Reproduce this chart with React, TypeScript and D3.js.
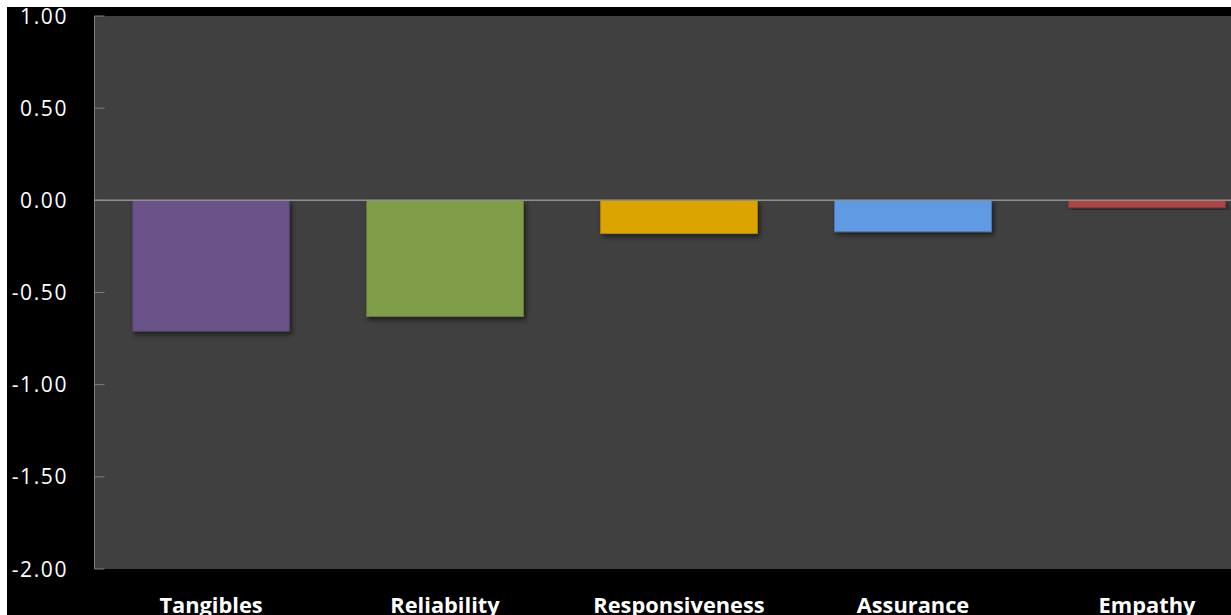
import React from "react";
import * as d3 from "d3";

// Service-quality gap scores per dimension
const categories = ["Tangibles", "Reliability", "Responsiveness", "Assurance", "Empathy"];
const gapValues = [-0.71, -0.63, -0.18, -0.17, -0.04];
const barColors = ["#6a5388", "#809d47", "#dba403", "#5e9ae2", "#ab4547"];
const yTicks = [1.0, 0.5, 0.0, -0.5, -1.0, -1.5, -2.0];

const W = 1231;
const H = 615;
const originX = 8;
const originY = 8;
const plotLeft = 86.5;
const plotTop = 8;
const plotBottom = 561;
const bandStart = 86;
const bandStep = 234;

export default function App() {
  const y = d3.scaleLinear().domain([-2, 1]).range([plotBottom, plotTop]);
  const x = d3
    .scaleBand<string>()
    .domain(categories)
    .range([bandStart, bandStart + bandStep * categories.length])
    .paddingInner(0.33)
    .paddingOuter(0.165);
  const plotRight = bandStart + bandStep * categories.length;
  const fmt = (v: number) => d3.format(".2f")(v).replace("\u2212", "-");

  return (
    <div style={{ width: W - 16, height: H - 16 }}>
      <svg
        width={W}
        height={H}
        style={{ display: "block", position: "fixed", left: 0, top: 0 }}
      >
        <defs>
          <filter id="barShadow" x="-10%" y="-10%" width="130%" height="140%">
            <feDropShadow dx="2" dy="3" stdDeviation="2.5" floodColor="#000" floodOpacity="0.55" />
          </filter>
        </defs>
        <rect x={0} y={0} width={W} height={H} fill="#ffffff" />
        <g transform={`translate(${originX},${originY})`}>
          <rect x={-1} y={-1} width={W} height={H} fill="#000" />
          <rect
            x={plotLeft}
            y={plotTop}
            width={plotRight - plotLeft}
            height={plotBottom - plotTop}
            fill="#404040"
          />

          {/* y axis */}
          <line x1={plotLeft} x2={plotLeft} y1={plotTop} y2={plotBottom} stroke="#7f7f7f" strokeWidth={1} />
          {yTicks.map((t) => (
            <g key={t}>
              <line
                x1={plotLeft}
                x2={plotLeft + 10}
                y1={y(t)}
                y2={y(t)}
                stroke="#7f7f7f"
                strokeWidth={1}
              />
              <text
                x={60}
                y={y(t)}
                dy="0.36em"
                textAnchor="end"
                fill="#ffffff"
                fontFamily="'Open Sans', sans-serif"
                fontSize={21}
                letterSpacing={1.6}
              >
                {fmt(t)}
              </text>
            </g>
          ))}

          {/* bars */}
          {categories.map((c, i) => {
            const v = gapValues[i];
            const y0 = y(Math.max(0, v));
            const y1 = y(Math.min(0, v));
            return (
              <rect
                key={c}
                x={x(c)}
                y={y0}
                width={x.bandwidth()}
                height={y1 - y0}
                fill={barColors[i]}
                stroke={d3.color(barColors[i])!.darker(0.6).toString()}
                strokeWidth={1}
                filter="url(#barShadow)"
              />
            );
          })}

          {/* zero line */}
          <line x1={plotLeft} x2={plotRight} y1={y(0)} y2={y(0)} stroke="#8f8f8f" strokeWidth={1.5} />

          {/* category labels */}
          {categories.map((c) => (
            <text
              key={c}
              x={x(c)! + x.bandwidth() / 2}
              y={605}
              textAnchor="middle"
              fill="#ffffff"
              fontFamily="'Open Sans', sans-serif"
              fontWeight={700}
              fontSize={21.8}
            >
              {c}
            </text>
          ))}
        </g>
      </svg>
    </div>
  );
}
